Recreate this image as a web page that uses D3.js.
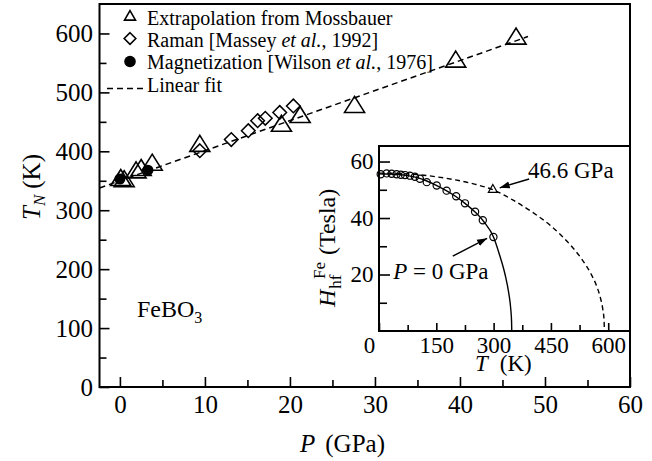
<!DOCTYPE html>
<html><head><meta charset="utf-8">
<script src="https://cdn.jsdelivr.net/npm/d3@7"></script>
<style>
body{margin:0;background:#fff;}
svg{display:block;font-family:"Liberation Serif","Times New Roman",serif;}
</style></head><body>
<svg id="c" width="652" height="461"></svg>
<script>
// FeBO3: Neel temperature versus pressure, with hyperfine-field inset

// Main panel data (P in GPa, T_N in K)
const mossP = [0.1, 0.5, 1.9, 2.5, 3.8, 9.4, 19.0, 21.2, 27.6, 39.5, 46.6];
const mossT = [351, 349, 364, 368, 377, 409, 443, 458, 475, 552, 591];
const ramanP = [9.4, 13.1, 15.1, 16.2, 17.1, 18.8, 20.4];
const ramanT = [401, 420, 435, 452, 456, 466, 477];
const magP = [0, 3.3];
const magT = [353, 368];
const fitP = [-2.4, 48];
const fitT = [337.8, 594.8];
const pTicks = [0, 10, 20, 30, 40, 50, 60];
const pMinor = [5, 15, 25, 35, 45, 55];
const tnTicks = [0, 100, 200, 300, 400, 500, 600];
const tnMinor = [50, 150, 250, 350, 450, 550];

// Inset data (T in K, H in Tesla)
const circT = [4.5, 20, 33, 46, 57, 68, 81, 94, 107, 125, 151, 177, 202, 225, 251.5, 271.7, 299.5];
const circH = [55.5, 55.8, 55.7, 55.5, 55.3, 55.2, 55.0, 54.6, 53.9, 52.7, 51.5, 49.7, 47.7, 45.2, 42.2, 39.2, 33.3];
const curve0T = [0, 25, 50, 75, 100, 125, 150, 175, 200, 225, 250, 275, 300, 315, 330, 340, 345, 347, 347.5];
const curve0H = [55.7, 55.6, 55.4, 55.0, 54.3, 53.1, 51.6, 49.8, 47.7, 45.2, 42.3, 38.6, 33.2, 27.2, 20.0, 13.1, 7.6, 3.4, 0];
const curveHPT = [0, 50, 100, 150, 200, 250, 300, 350, 400, 450, 500, 530, 555, 570, 580, 586, 589, 590];
const curveHPH = [55.9, 55.8, 55.4, 54.6, 53.5, 52.0, 49.9, 46.4, 42.2, 37.2, 30.6, 25.6, 20.2, 15.8, 11.5, 7.5, 4.0, 0];
const hpPointT = [298];
const hpPointH = [50];
const tTicks = [0, 150, 300, 450, 600];
const tMinor = [75, 225, 375, 525];
const hTicks = [20, 40, 60];
const hMinor = [10, 30, 50];

const FONT = '"Liberation Serif","Times New Roman",serif';
const svg = d3.select("#c");

const x = d3.scaleLinear([-2.4, 60], [99.5, 630]);
const y = d3.scaleLinear([0, 650], [387, 4]);

function triPath(w, h) {
  return `M0,${-h * 2 / 3}L${w / 2},${h / 3}L${-w / 2},${h / 3}Z`;
}
function diaPath(r) {
  return `M0,${-r}L${r},0L0,${r}L${-r},0Z`;
}

function styleAxis(g, size) {
  g.attr("font-family", FONT).attr("font-size", size);
  g.select(".domain").remove();
  g.selectAll(".tick line").attr("stroke", "#000").attr("stroke-width", 1.6);
  g.selectAll(".tick text").attr("fill", "#000");
}

// ---- main axes ----
const gx = svg.append("g").attr("transform", `translate(0,${y(0)})`)
  .call(d3.axisBottom(x).tickValues(pTicks).tickSize(-10).tickPadding(8).tickFormat(d3.format("d")));
styleAxis(gx, 25);
const gxm = svg.append("g").attr("transform", `translate(0,${y(0)})`)
  .call(d3.axisBottom(x).tickValues(pMinor).tickSize(-7).tickFormat(""));
styleAxis(gxm, 25);
const gy = svg.append("g").attr("transform", `translate(${x(-2.4)},0)`)
  .call(d3.axisLeft(y).tickValues(tnTicks).tickSize(-10).tickPadding(6.5).tickFormat(d3.format("d")));
styleAxis(gy, 25);
const gym = svg.append("g").attr("transform", `translate(${x(-2.4)},0)`)
  .call(d3.axisLeft(y).tickValues(tnMinor).tickSize(-7).tickFormat(""));
styleAxis(gym, 25);

// fit line
svg.append("path")
  .datum(fitP.map((p, i) => [p, fitT[i]]))
  .attr("d", d3.line().x(d => x(d[0])).y(d => y(d[1])))
  .attr("fill", "none").attr("stroke", "#000").attr("stroke-width", 1.5)
  .attr("stroke-dasharray", "6,4");

// Raman diamonds
svg.append("g").selectAll("path").data(ramanP.map((p, i) => [p, ramanT[i]])).join("path")
  .attr("transform", d => `translate(${x(d[0])},${y(d[1])})`)
  .attr("d", diaPath(6.8)).attr("fill", "none").attr("stroke", "#000").attr("stroke-width", 1.5);

// Mossbauer triangles
svg.append("g").selectAll("path").data(mossP.map((p, i) => [p, mossT[i]])).join("path")
  .attr("transform", d => `translate(${x(d[0])},${y(d[1])})`)
  .attr("d", triPath(20, 16)).attr("fill", "none").attr("stroke", "#000").attr("stroke-width", 1.6);

// Magnetization circles
svg.append("g").selectAll("circle").data(magP.map((p, i) => [p, magT[i]])).join("circle")
  .attr("cx", d => x(d[0])).attr("cy", d => y(d[1])).attr("r", 5.5).attr("fill", "#000");

// main frame
svg.append("rect").attr("x", x(-2.4)).attr("y", y(650)).attr("width", x(60) - x(-2.4)).attr("height", y(0) - y(650))
  .attr("fill", "none").attr("stroke", "#000").attr("stroke-width", 2);

// axis titles
const tn = svg.append("text").attr("transform", "translate(40,187) rotate(-90)")
  .attr("text-anchor", "middle").attr("font-size", 25).attr("fill", "#000");
tn.append("tspan").attr("font-style", "italic").text("T");
tn.append("tspan").attr("font-style", "italic").attr("font-size", 17).attr("dy", 5).text("N");
tn.append("tspan").attr("dy", -5).attr("dx", 6).text("(K)");

const pt = svg.append("text").attr("x", 300).attr("y", 452).attr("font-size", 25).attr("fill", "#000");
pt.append("tspan").attr("font-style", "italic").text("P");
pt.append("tspan").attr("dx", 10).text("(GPa)");

svg.append("text").attr("x", 137).attr("y", 317).attr("font-size", 24).attr("fill", "#000")
  .call(t => { t.append("tspan").text("FeBO"); t.append("tspan").attr("font-size", 16).attr("dy", 6).text("3"); });

// legend
const leg = svg.append("g").attr("font-size", 20).attr("fill", "#000");
leg.append("path").attr("transform", "translate(130,17)").attr("d", triPath(11, 9.5))
  .attr("fill", "none").attr("stroke", "#000").attr("stroke-width", 1.6);
leg.append("path").attr("transform", "translate(130,38.5)").attr("d", diaPath(5.8))
  .attr("fill", "none").attr("stroke", "#000").attr("stroke-width", 1.6);
leg.append("circle").attr("cx", 130).attr("cy", 61.5).attr("r", 5.8).attr("fill", "#000");
leg.append("line").attr("x1", 107).attr("x2", 143).attr("y1", 88.5).attr("y2", 88.5)
  .attr("stroke", "#000").attr("stroke-width", 1.5).attr("stroke-dasharray", "6,4");
leg.append("text").attr("x", 147).attr("y", 25).text("Extrapolation from Mossbauer");
leg.append("text").attr("x", 147).attr("y", 46.5).call(t => {
  t.append("tspan").text("Raman [Massey ");
  t.append("tspan").attr("font-style", "italic").text("et al.");
  t.append("tspan").text(", 1992]");
});
leg.append("text").attr("x", 147).attr("y", 68.5).call(t => {
  t.append("tspan").text("Magnetization [Wilson ");
  t.append("tspan").attr("font-style", "italic").text("et al.");
  t.append("tspan").text(", 1976]");
});
leg.append("text").attr("x", 147).attr("y", 92).text("Linear fit");

// ---- inset ----
const xi = d3.scaleLinear([0, 657], [379, 630]);
const yi = d3.scaleLinear([0, 65.5], [331, 146]);

svg.append("rect").attr("x", xi(0)).attr("y", yi(65.5)).attr("width", xi(657) - xi(0)).attr("height", yi(0) - yi(65.5))
  .attr("fill", "#fff");

const gxi = svg.append("g").attr("transform", `translate(0,${yi(0)})`)
  .call(d3.axisBottom(xi).tickValues(tTicks).tickSize(-8).tickPadding(5.5).tickFormat(d3.format("d")));
styleAxis(gxi, 23);
gxi.selectAll(".tick text").filter(d => d === 0).attr("dx", -10);
const gxim = svg.append("g").attr("transform", `translate(0,${yi(0)})`)
  .call(d3.axisBottom(xi).tickValues(tMinor).tickSize(-6).tickFormat(""));
styleAxis(gxim, 23);
const gyi = svg.append("g").attr("transform", `translate(${xi(0)},0)`)
  .call(d3.axisLeft(yi).tickValues(hTicks).tickSize(-11).tickPadding(5.5).tickFormat(d3.format("d")));
styleAxis(gyi, 23);
const gyim = svg.append("g").attr("transform", `translate(${xi(0)},0)`)
  .call(d3.axisLeft(yi).tickValues(hMinor).tickSize(-8).tickFormat(""));
styleAxis(gyim, 23);

const lineI = d3.line().x(d => xi(d[0])).y(d => yi(d[1])).curve(d3.curveMonotoneX);
svg.append("path").datum(curveHPT.map((t, i) => [t, curveHPH[i]])).attr("d", lineI)
  .attr("fill", "none").attr("stroke", "#000").attr("stroke-width", 1.4).attr("stroke-dasharray", "5,3.5");
svg.append("path").datum(curve0T.map((t, i) => [t, curve0H[i]])).attr("d", lineI)
  .attr("fill", "none").attr("stroke", "#000").attr("stroke-width", 1.4);
svg.append("g").selectAll("circle").data(circT.map((t, i) => [t, circH[i]])).join("circle")
  .attr("cx", d => xi(d[0])).attr("cy", d => yi(d[1])).attr("r", 3.6)
  .attr("fill", "none").attr("stroke", "#000").attr("stroke-width", 1.2);
svg.append("g").selectAll("path").data(hpPointT.map((t, i) => [t, hpPointH[i]])).join("path")
  .attr("transform", d => `translate(${xi(d[0])},${yi(d[1])})`)
  .attr("d", triPath(9, 8)).attr("fill", "none").attr("stroke", "#000").attr("stroke-width", 1.2);

svg.append("rect").attr("x", xi(0)).attr("y", yi(65.5)).attr("width", xi(657) - xi(0)).attr("height", yi(0) - yi(65.5))
  .attr("fill", "none").attr("stroke", "#000").attr("stroke-width", 2);

// annotations with arrows
svg.append("defs").append("marker").attr("id", "ah").attr("viewBox", "0 0 10 10")
  .attr("refX", 10).attr("refY", 5).attr("markerWidth", 10).attr("markerHeight", 10)
  .attr("markerUnits", "userSpaceOnUse").attr("orient", "auto")
  .append("path").attr("d", "M0,1.5L10,5L0,8.5Z").attr("fill", "#000");

function arrow(t1, h1, t2, h2) {
  svg.append("line").attr("x1", xi(t1)).attr("y1", yi(h1)).attr("x2", xi(t2)).attr("y2", yi(h2))
    .attr("stroke", "#000").attr("stroke-width", 1.4).attr("marker-end", "url(#ah)");
}
arrow(393, 53.8, 316, 50.7);
arrow(193, 26.5, 283, 32.8);

svg.append("text").attr("x", xi(390)).attr("y", yi(54.2)).attr("font-size", 23).attr("fill", "#000").text("46.6 GPa");
svg.append("text").attr("x", xi(37)).attr("y", yi(18.4)).attr("font-size", 23).attr("fill", "#000").call(t => {
  t.append("tspan").attr("font-style", "italic").text("P");
  t.append("tspan").text(" = 0 GPa");
});

// inset axis titles
const it = svg.append("text").attr("x", 475).attr("y", 371).attr("font-size", 23).attr("fill", "#000");
it.append("tspan").attr("font-style", "italic").text("T");
it.append("tspan").attr("dx", 12).text("(K)");

// H_hf^Fe (Tesla), read bottom to top; local x runs upward from page y = 307
const hl = svg.append("g").attr("transform", "translate(335,0) rotate(-90)").attr("font-size", 24).attr("fill", "#000");
const hH = hl.append("text").attr("x", -307).attr("font-style", "italic").text("H");
const wH = hH.node().getComputedTextLength();
const hSub = hl.append("text").attr("x", -307 + wH + 1).attr("dy", 6).attr("font-size", 17).text("hf");
const wSub = hSub.node().getComputedTextLength();
const hSup = hl.append("text").attr("x", -307 + wH + wSub * 0.75).attr("dy", -10).attr("font-size", 17).text("Fe");
const wSup = hSup.node().getComputedTextLength();
hl.append("text").attr("x", -307 + wH + wSub * 0.75 + wSup + 7).text("(Tesla)");
</script>
</body></html>
